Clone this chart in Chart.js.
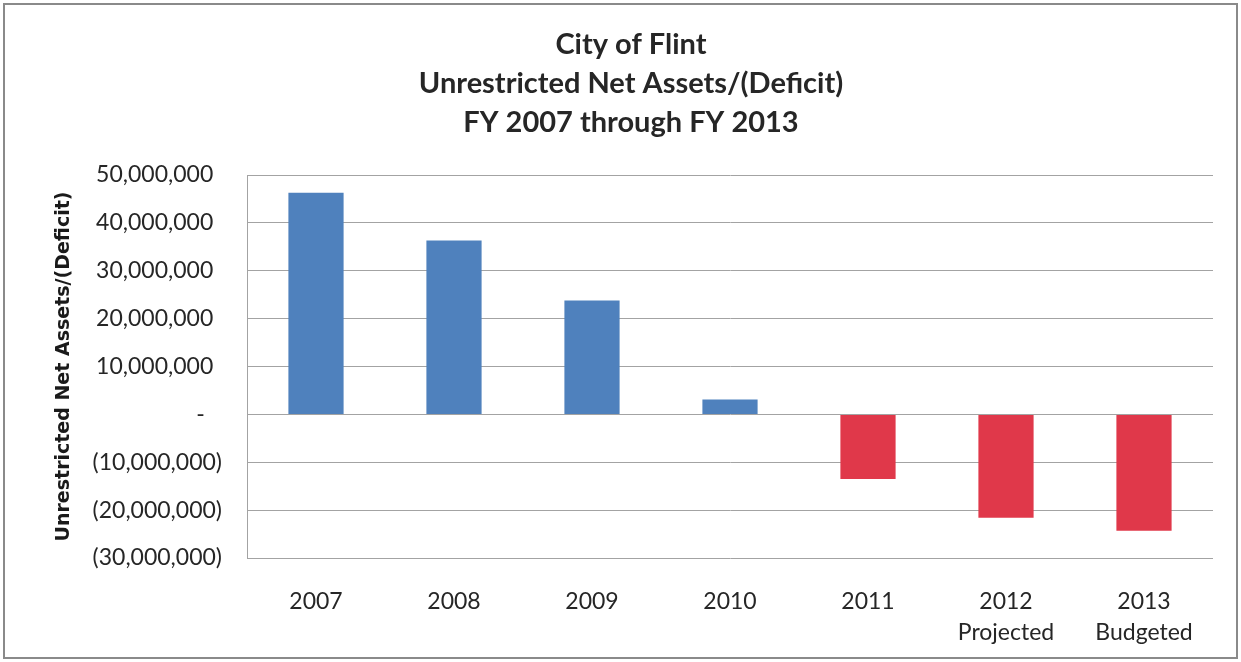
<!DOCTYPE html>
<html>
<head>
<meta charset="utf-8">
<title>City of Flint</title>
<script src="https://cdn.jsdelivr.net/npm/chart.js@4"></script>
<style>
  body { margin: 0; background: #fff; }
  #wrap { position: relative; width: 1241px; height: 662px; }
  #frame { position: absolute; left: 3px; top: 3px; right: 3px; bottom: 3px; border: 2px solid #8a8a8a; pointer-events: none; }
</style>
</head>
<body>
<div id="wrap">
  <canvas id="chart" width="1241" height="662"></canvas>
  <div id="frame"></div>
</div>
<script>
// data
const years = [["2007"], ["2008"], ["2009"], ["2010"], ["2011"], ["2012", "Projected"], ["2013", "Budgeted"]];
const netAssets = [46300000, 36300000, 23800000, 3100000, -13500000, -21600000, -24300000];
const yTicks = [50000000, 40000000, 30000000, 20000000, 10000000, 0, -10000000, -20000000, -30000000];
const titleLines = ["City of Flint", "Unrestricted Net Assets/(Deficit)", "FY 2007 through FY 2013"];

const blue = "#4f81bd";
const red = "#e0384a";

// accounting style: 10,000,000 / (10,000,000) / -
function fmt(v) {
  if (v === 0) return "-\u2003";
  const s = Math.abs(v).toLocaleString("en-US");
  return v < 0 ? "(" + s + ")" : s + " \u2009";
}

const ctx = document.getElementById("chart").getContext("2d");
new Chart(ctx, {
  type: "bar",
  data: {
    labels: years,
    datasets: [{
      data: netAssets,
      backgroundColor: netAssets.map(v => (v < 0 ? red : blue)),
      barPercentage: 0.4,
      categoryPercentage: 1.0,
    }]
  },
  options: {
    responsive: false,
    animation: false,
    layout: { padding: { left: 49, right: 28, top: 0, bottom: 0 } },
    plugins: {
      legend: { display: false },
      tooltip: { enabled: false },
      title: {
        display: true,
        text: titleLines,
        color: "#262626",
        font: { family: "Lato", size: 29, weight: "bold", lineHeight: 1.345 },
        padding: { top: 25, bottom: 33 }
      }
    },
    scales: {
      x: {
        grid: { display: false },
        border: { display: false },
        ticks: {
          color: "#262626",
          font: { family: "Lato", size: 23, lineHeight: 1.35 },
          padding: 20,
          maxRotation: 0
        },
        afterFit: scale => { scale.height = 104; }
      },
      y: {
        min: -30000000,
        max: 50000000,
        afterBuildTicks: scale => { scale.ticks = yTicks.map(v => ({ value: v })); },
        grid: { color: "#a3a3a3", lineWidth: 1, drawTicks: false },
        border: { display: true, color: "#a3a3a3", width: 1 },
        ticks: {
          color: "#262626",
          font: { family: "Lato", size: 23 },
          padding: 25,
          callback: v => fmt(v)
        },
        title: {
          display: true,
          text: "Unrestricted Net Assets/(Deficit)",
          color: "#1a1a1a",
          font: { family: "DejaVu Sans", size: 19, weight: "bold" },
          padding: { top: 4, bottom: 4 }
        },
        afterFit: scale => { scale.width = 198; }
      }
    }
  }
});
</script>
</body>
</html>
